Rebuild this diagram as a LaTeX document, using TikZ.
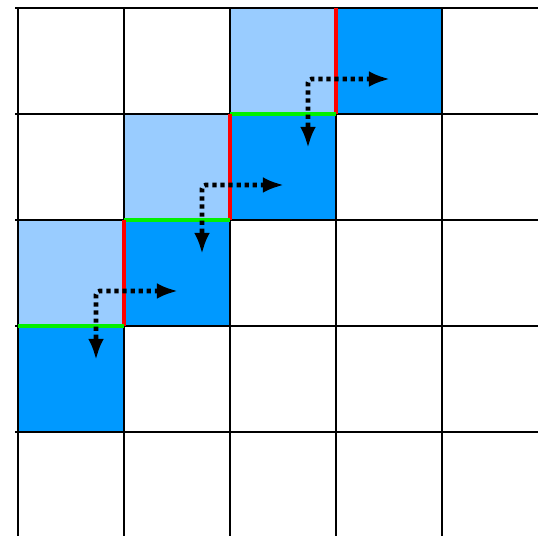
\documentclass[tikz,border=0pt]{standalone}
\usetikzlibrary{arrows.meta}
\definecolor{lightcell}{HTML}{99CCFF}
\definecolor{darkcell}{HTML}{0099FF}
\definecolor{cutred}{HTML}{FF0000}
\definecolor{cutgreen}{HTML}{00F000}
\tikzset{
  gridline/.style={line width=1.2pt},
  vcut/.style={cutred, line width=2.2pt},
  hcut/.style={cutgreen, line width=2.2pt},
  move/.style={line width=2.6pt, dash pattern=on 2.4pt off 2.2pt, rounded corners=2pt,
    {Latex[length=12pt,width=9pt]}-{Latex[length=12pt,width=9pt]}},
}
\begin{document}
\begin{tikzpicture}[x=0.02cm,y=-0.02cm]
\useasboundingbox[fill=white] (0,0) rectangle (538,536);
% cells
\foreach \c/\r in {2/0,1/1,0/2} {
  \fill[lightcell] (18+106*\c,8+106*\r) rectangle ++(106,106);
  \fill[darkcell] (124+106*\c,8+106*\r) rectangle ++(106,106);
}
\fill[darkcell] (18,326) rectangle ++(106,106);
% grid
\foreach \k in {0,...,4} {
  \draw[gridline] (18+106*\k,8) -- (18+106*\k,536);
  \draw[gridline] (15,8+106*\k) -- (538,8+106*\k);
}
% edges
\foreach \c/\r in {2/0,1/1,0/2} {
  \draw[vcut] (124+106*\c,8+106*\r) -- ++(0,106);
  \draw[hcut] (18+106*\c,114+106*\r) -- ++(106,0);
}
% moves
\foreach \c/\r [count=\i] in {2/0,1/1,0/2} {
  \coordinate (rt\i) at (178+106*\c,79+106*\r);
  \coordinate (dn\i) at (96+106*\c,148+106*\r);
  \draw[move] (rt\i) -| (dn\i);
}
\end{tikzpicture}
\end{document}
